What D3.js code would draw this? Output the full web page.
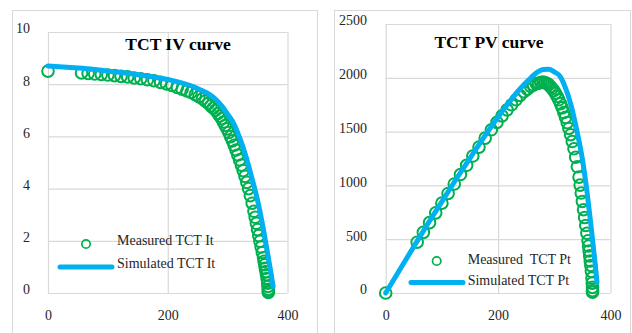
<!DOCTYPE html>
<html>
<head>
<meta charset="utf-8">
<script src="https://d3js.org/d3.v7.min.js"></script>
<style>
  html, body { margin: 0; padding: 0; background: #fff; }
  svg { display: block; }
</style>
</head>
<body>
<div id="chart"></div>
<script>
// --- data ---
const xTicks = [0, 200, 400];
const ivTicks = [0, 2, 4, 6, 8, 10];
const pvTicks = [0, 500, 1000, 1500, 2000, 2500];

// simulated curve (voltage, current, power)
const simVolt = [0, 25, 50, 75, 100, 125, 150, 175, 200, 220, 240, 255, 270, 280, 290, 300, 310, 320, 330, 340, 350, 358, 365, 371, 376];
const simCurr = [8.70, 8.66, 8.62, 8.57, 8.50, 8.44, 8.36, 8.28, 8.18, 8.07, 7.93, 7.78, 7.60, 7.42, 7.17, 6.85, 6.50, 5.95, 5.28, 4.45, 3.55, 2.65, 1.75, 0.95, 0.25];
const simPow = [0, 216, 431, 643, 850, 1055, 1254, 1449, 1636, 1775, 1903, 1984, 2052, 2078, 2080, 2055, 2015, 1904, 1742, 1513, 1243, 949, 639, 352, 100];

// measured points
const measVolt = [0, 56, 67, 78, 89, 100, 111, 122, 133, 144, 155, 166, 177, 188, 198, 207, 216, 224, 232, 239,
  246, 252, 258, 263, 268, 272, 276, 280, 284, 287, 290, 293, 296, 299, 302, 305, 308, 311, 314, 317,
  320, 323, 326, 329, 332, 335, 338, 341, 344, 346, 348, 350, 352, 354, 356, 358, 360, 361, 362, 363,
  364, 365, 366, 367, 367.5, 368, 368, 368];
const measCurr = [8.50, 8.43, 8.41, 8.39, 8.37, 8.35, 8.33, 8.30, 8.28, 8.24, 8.21, 8.17, 8.13, 8.07, 8.01, 7.95, 7.88, 7.81, 7.74, 7.68,
  7.60, 7.52, 7.44, 7.35, 7.26, 7.17, 7.09, 7.00, 6.88, 6.78, 6.68, 6.55, 6.42, 6.29, 6.15, 5.99, 5.83, 5.66, 5.48, 5.29,
  5.10, 4.90, 4.69, 4.47, 4.24, 4.00, 3.73, 3.44, 3.13, 2.90, 2.67, 2.43, 2.20, 1.98, 1.76, 1.55, 1.35, 1.21, 1.08, 0.95,
  0.82, 0.70, 0.55, 0.38, 0.25, 0.14, 0.06, 0.02];
const measPow = [0, 472, 563, 654, 745, 835, 925, 1013, 1101, 1187, 1273, 1356, 1439, 1517, 1586, 1646, 1702, 1749, 1796, 1836,
  1870, 1895, 1920, 1933, 1946, 1950, 1957, 1960, 1954, 1946, 1937, 1919, 1900, 1881, 1857, 1827, 1796, 1760, 1721, 1677,
  1632, 1583, 1529, 1471, 1408, 1340, 1261, 1173, 1077, 1003, 929, 851, 774, 701, 627, 555, 486, 437, 391, 345,
  298, 256, 201, 139, 92, 52, 22, 7];

const colors = {
  grid: "#d9d9d9",
  frame: "#d9d9d9",
  text: "#262626",
  measured: "#00b050",
  simulated: "#00b0f0"
};
const serif = "Liberation Serif";

const svg = d3.select("#chart")
  .append("svg")
  .attr("width", 632)
  .attr("height", 333);

svg.append("rect").attr("width", 632).attr("height", 333).attr("fill", "#fff");

const panels = [
  {
    frame: [12.5, 10.5, 305, 340],
    xr: [48, 287.5], yr: [293, 32], yMax: 10, yTicks: ivTicks,
    labelX: 30,
    title: "TCT IV curve", titleX: 178, titleY: 50,
    measY: measCurr, simY: simCurr,
    legMeas: "Measured TCT It", legSim: "Simulated TCT It",
    leg: { cx: 86, cy: 244, tx: 117, ty1: 245, ty2: 268, lx1: 60, lx2: 112, ly: 267 }
  },
  {
    frame: [334.5, 10.5, 296, 340],
    xr: [385.7, 610.5], yr: [293, 24], yMax: 2500, yTicks: pvTicks,
    labelX: 367,
    title: "TCT PV curve", titleX: 489, titleY: 48,
    measY: measPow, simY: simPow,
    legMeas: "Measured  TCT Pt", legSim: "Simulated TCT Pt",
    leg: { cx: 436.7, cy: 261, tx: 467.7, ty1: 264, ty2: 285, lx1: 411, lx2: 463, ly: 282.5 }
  }
];

panels.forEach(p => {
  // outer frame
  svg.append("rect")
    .attr("x", p.frame[0]).attr("y", p.frame[1])
    .attr("width", p.frame[2]).attr("height", p.frame[3])
    .attr("fill", "none")
    .attr("stroke", colors.frame)
    .attr("stroke-width", 1);

  const x = d3.scaleLinear().domain([0, 400]).range(p.xr);
  const y = d3.scaleLinear().domain([0, p.yMax]).range(p.yr);
  const w = p.xr[1] - p.xr[0];
  const h = p.yr[0] - p.yr[1];

  // y grid + labels
  const gy = svg.append("g")
    .attr("transform", `translate(${p.xr[0]},0)`)
    .call(d3.axisLeft(y).tickValues(p.yTicks).tickSize(-w).tickPadding(p.xr[0] - p.labelX).tickFormat(d3.format("d")));
  gy.attr("font-family", serif).attr("font-size", 14);
  gy.select(".domain").remove();
  gy.selectAll("line").attr("stroke", colors.grid).attr("stroke-width", 1.2);
  gy.selectAll("text")
    .attr("dy", "0.07em")
    .attr("fill", colors.text);

  // x grid + labels
  const gx = svg.append("g")
    .attr("transform", `translate(0,${p.yr[0]})`)
    .call(d3.axisBottom(x).tickValues(xTicks).tickSize(-h).tickPadding(17).tickFormat(d3.format("d")));
  gx.attr("font-family", serif).attr("font-size", 14);
  gx.select(".domain").remove();
  gx.selectAll("line").attr("stroke", colors.grid).attr("stroke-width", 1.2);
  gx.selectAll("text").attr("fill", colors.text);

  // measured markers
  const meas = measVolt.map((v, i) => ({ v: v, y: p.measY[i] }));
  svg.append("g")
    .selectAll("circle")
    .data(meas)
    .enter()
    .append("circle")
    .attr("cx", d => x(d.v))
    .attr("cy", d => y(d.y))
    .attr("r", 5.8)
    .attr("fill", "none")
    .attr("stroke", colors.measured)
    .attr("stroke-width", 2);

  // simulated line
  const sim = simVolt.map((v, i) => ({ v: v, y: p.simY[i] }));
  svg.append("path")
    .datum(sim)
    .attr("fill", "none")
    .attr("stroke", colors.simulated)
    .attr("stroke-width", 5)
    .attr("stroke-linecap", "round")
    .attr("stroke-linejoin", "round")
    .attr("d", d3.line().x(d => x(d.v)).y(d => y(d.y)).curve(d3.curveMonotoneX));

  // title
  svg.append("text")
    .attr("x", p.titleX)
    .attr("y", p.titleY)
    .attr("text-anchor", "middle")
    .attr("font-family", serif)
    .attr("font-size", 17.5)
    .attr("font-weight", 700)
    .attr("fill", "#000")
    .text(p.title);

  // legend
  const L = p.leg;
  svg.append("circle")
    .attr("cx", L.cx).attr("cy", L.cy).attr("r", 4.2)
    .attr("fill", "none").attr("stroke", colors.measured).attr("stroke-width", 1.7);
  svg.append("line")
    .attr("x1", L.lx1).attr("x2", L.lx2).attr("y1", L.ly).attr("y2", L.ly)
    .attr("stroke", colors.simulated).attr("stroke-width", 5).attr("stroke-linecap", "round");
  [[p.legMeas, L.ty1], [p.legSim, L.ty2]].forEach(([t, ty]) => {
    svg.append("text")
      .attr("x", L.tx).attr("y", ty)
      .attr("font-family", serif)
      .attr("font-size", 14)
      .style("white-space", "pre")
      .attr("fill", colors.text)
      .text(t);
  });
});
</script>
</body>
</html>
